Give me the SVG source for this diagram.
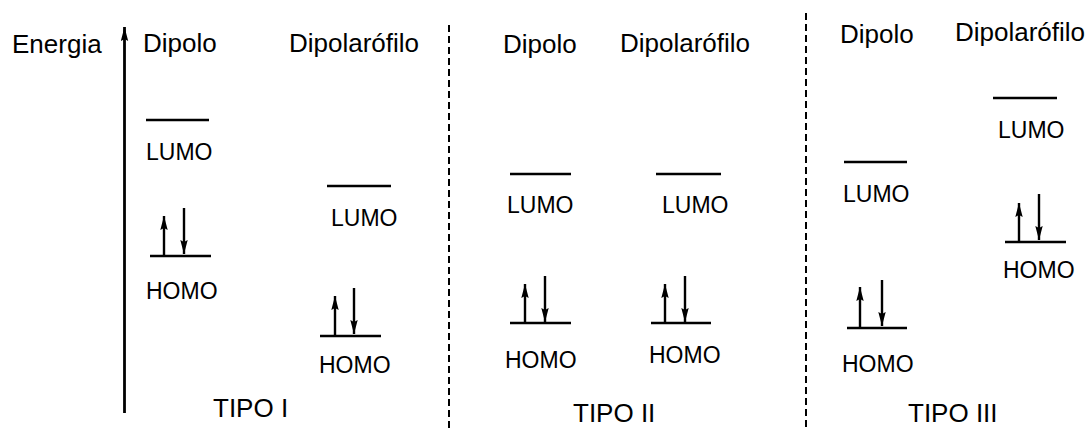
<svg xmlns="http://www.w3.org/2000/svg" width="1089" height="428" viewBox="0 0 1089 428">
  <style>
    text { font-family: "Liberation Sans", Arial, sans-serif; fill: #000; }
    .head { font-size: 26px; }
    .lbl { font-size: 23px; }
    .tipo { font-size: 26px; }
    .level { stroke: #000; stroke-width: 2.6; fill: none; }
    .e { stroke: #000; stroke-width: 2.4; fill: none; marker-end: url(#eh); }
    .axis { stroke: #000; stroke-width: 2.8; fill: none; marker-end: url(#ah); }
    .sep { stroke: #000; stroke-width: 2; stroke-dasharray: 7 4; fill: none; }
  </style>
  <defs>
    <marker id="eh" markerUnits="userSpaceOnUse" markerWidth="15" markerHeight="8" refX="14" refY="4" orient="auto">
      <path d="M0,0.3 L14,4 L0,7.7 L2,4 z" fill="#000"/>
    </marker>
    <marker id="ah" markerUnits="userSpaceOnUse" markerWidth="15" markerHeight="8" refX="14" refY="4" orient="auto">
      <path d="M0,0.3 L14,4 L0,7.7 L2,4 z" fill="#000"/>
    </marker>
  </defs>

  <rect width="1089" height="428" fill="#fff"/>

  <!-- energy axis and type separators -->
  <g id="connectors">
    <line class="axis" x1="124.5" y1="413" x2="124.5" y2="27"/>
    <line class="sep" x1="449" y1="25" x2="449" y2="428"/>
    <line class="sep" x1="806" y1="13" x2="806" y2="428"/>
  </g>

  <g id="energia">
    <text class="head" x="12" y="53">Energia</text>
  </g>

  <!-- Tipo I -->
  <g id="tipo1-dipolo">
    <text class="head" x="143" y="52">Dipolo</text>
    <line class="level" x1="146" y1="120" x2="209" y2="120"/>
    <text class="lbl" x="146" y="160">LUMO</text>
    <line class="level" x1="150" y1="256" x2="211" y2="256"/>
    <line class="e" x1="164" y1="256" x2="164" y2="216"/>
    <line class="e" x1="184" y1="208" x2="184" y2="254"/>
    <text class="lbl" x="146" y="299">HOMO</text>
  </g>
  <g id="tipo1-dipolarofilo">
    <text class="head" x="289" y="52">Dipolarófilo</text>
    <line class="level" x1="327" y1="186" x2="391" y2="186"/>
    <text class="lbl" x="331" y="226">LUMO</text>
    <line class="level" x1="320" y1="336" x2="381" y2="336"/>
    <line class="e" x1="335" y1="336" x2="335" y2="296"/>
    <line class="e" x1="354" y1="288" x2="354" y2="334"/>
    <text class="lbl" x="319" y="373">HOMO</text>
  </g>
  <g id="tipo1-label">
    <text class="tipo" x="213" y="417">TIPO I</text>
  </g>

  <!-- Tipo II -->
  <g id="tipo2-dipolo">
    <text class="head" x="503" y="53">Dipolo</text>
    <line class="level" x1="510" y1="174" x2="571" y2="174"/>
    <text class="lbl" x="507" y="213">LUMO</text>
    <line class="level" x1="510" y1="323" x2="571" y2="323"/>
    <line class="e" x1="525" y1="323" x2="525" y2="284"/>
    <line class="e" x1="545" y1="276" x2="545" y2="322"/>
    <text class="lbl" x="505" y="368">HOMO</text>
  </g>
  <g id="tipo2-dipolarofilo">
    <text class="head" x="620" y="52">Dipolarófilo</text>
    <line class="level" x1="656" y1="174" x2="721" y2="174"/>
    <text class="lbl" x="662" y="213">LUMO</text>
    <line class="level" x1="651" y1="323" x2="711" y2="323"/>
    <line class="e" x1="665" y1="323" x2="665" y2="284"/>
    <line class="e" x1="685" y1="276" x2="685" y2="322"/>
    <text class="lbl" x="649" y="363">HOMO</text>
  </g>
  <g id="tipo2-label">
    <text class="tipo" x="573" y="422">TIPO II</text>
  </g>

  <!-- Tipo III -->
  <g id="tipo3-dipolo">
    <text class="head" x="840" y="43">Dipolo</text>
    <line class="level" x1="844" y1="162" x2="907" y2="162"/>
    <text class="lbl" x="843" y="202">LUMO</text>
    <line class="level" x1="847" y1="328" x2="907" y2="328"/>
    <line class="e" x1="860" y1="328" x2="860" y2="287"/>
    <line class="e" x1="882" y1="280" x2="882" y2="326"/>
    <text class="lbl" x="842" y="372">HOMO</text>
  </g>
  <g id="tipo3-dipolarofilo">
    <text class="head" x="955" y="41">Dipolarófilo</text>
    <line class="level" x1="993" y1="98" x2="1057" y2="98"/>
    <text class="lbl" x="998" y="138">LUMO</text>
    <line class="level" x1="1005" y1="242" x2="1066" y2="242"/>
    <line class="e" x1="1019" y1="242" x2="1019" y2="203"/>
    <line class="e" x1="1039" y1="194" x2="1039" y2="240"/>
    <text class="lbl" x="1003" y="278">HOMO</text>
  </g>
  <g id="tipo3-label">
    <text class="tipo" x="908" y="422">TIPO III</text>
  </g>
</svg>
